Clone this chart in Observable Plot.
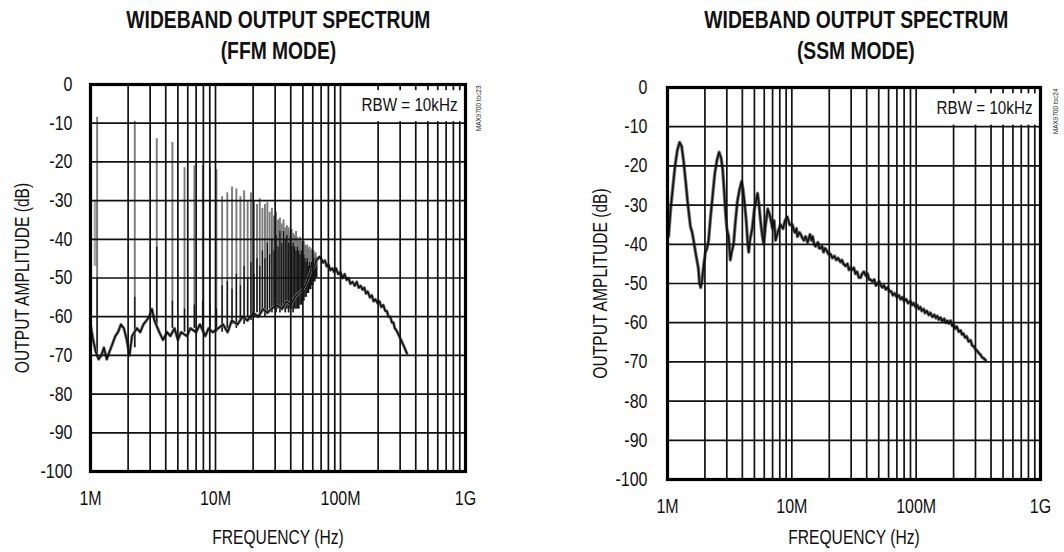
<!DOCTYPE html>
<html><head><meta charset="utf-8">
<script src="https://cdn.jsdelivr.net/npm/d3@7"></script>
<script src="https://cdn.jsdelivr.net/npm/@observablehq/plot@0.6"></script>
<style>
body{margin:0;background:#fff;}
#wrap{position:relative;width:1064px;height:552px;overflow:hidden;font-family:"Liberation Sans",Arial,sans-serif;color:#111;}
.panel{position:absolute;top:0;width:532px;height:552px;}
.title{position:absolute;top:5px;width:532px;text-align:center;font-weight:bold;font-size:23.5px;line-height:31px;color:#111;}
.title span{display:inline-block;transform:scaleX(0.82);white-space:nowrap;}
.plot{position:absolute;top:70px;left:0;}
</style></head>
<body><div id="wrap"></div>
<script>
// ---------- data ----------
const titles = [["WIDEBAND OUTPUT SPECTRUM", "(FFM MODE)"], ["WIDEBAND OUTPUT SPECTRUM", "(SSM MODE)"]];
const xLabel = "FREQUENCY (Hz)";
const yLabel = "OUTPUT AMPLITUDE (dB)";
const rbwLabel = "RBW = 10kHz";
const tocLabels = ["MAX9700 toc23", "MAX9700 toc24"];

const xTickMHz = [1, 10, 100, 1000];
const xTickLabels = ["1M", "10M", "100M", "1G"];
const yTicksDb = [0, -10, -20, -30, -40, -50, -60, -70, -80, -90, -100];
const gridMHz = [1,2,3,4,5,6,7,8,9,10,20,30,40,50,60,70,80,90,100,200,300,400,500,600,700,800,900,1000];
const rbwBoxMHz = [108, 1000];
const rbwBoxDb = [-1.6, -9.6];

// FFM mode: switching harmonics (MHz), peak, bottom and dark-core levels (dB)
const ffmHarmonicMHz = [1.13,2.26,3.39,4.52,5.65,6.78,7.91,9.04,10.17,11.30,12.43,13.56,14.69,15.82,16.95,18.08,19.21,20.34,21.47,22.60,23.73,24.86,25.99,27.12,28.25,29.38,30.51,31.64,32.77,33.90,35.03,36.16,37.29,38.42,39.55,40.68,41.81,42.94,44.07,45.20,46.33,47.46,48.59,49.72,50.85,51.98,53.11,54.24,55.37,56.50,57.63,58.76,59.89,61.02,62.15,63.28,64.41];
const ffmPeakDb = [-8.5,-9.5,-14,-15,-21.5,-21,-21,-21.5,-22,
  -29,-28,-26.5,-27,-29,-27.5,-30,-28,-30,-31,-29.5,
  -32,-31,-30.5,-33,-32,-34,-33,-35,-34.5,-36,
  -35,-37,-36.5,-37,-38,-37.5,-38.5,-39,-38,-39.5,
  -40,-39.5,-40.5,-41,-40.5,-41.5,-42,-41.5,-42.5,-42,-43,-42.5,-43.5,-43,-44,-43.5,-44.5];
const ffmBottomDb = [-70,-68,-62,-63,-64,-63,-64,-63,-64,
  -64,-63,-62,-63,-61,-62,-60,-61,-60,-59,-60,
  -59,-60,-59,-58,-59,-58,-59,-58,-59,-58,
  -58,-59,-58,-59,-58,-58,-59,-58,-58,-58,
  -58,-57,-57,-56,-56,-55,-55,-54,-54,-53,-53,-52,-52,-51,-51,-50,-50];
const ffmCoreDb = [-50,-55,-42,-56,-58,-57,-56,-57,-58,
  -52,-51,-53,-49,-52,-47,-50,-46,-49,-45,-47,
  -43,-45,-41,-44,-40,-43,-39,-42,-38,-41,
  -38,-40,-39,-41,-40,-42,-41,-42,-43,-42,
  -43,-44,-43,-45,-44,-45,-46,-45,-47,-46,-47,-46,-46,-45,-46,-45,-46];
const ffmBand = [[1.1, -30, -47]];
// FFM noise floor / broadband trace [MHz, dB]
const ffmTrace = [[1.0,-62],[1.05,-66],[1.1,-69],[1.16,-71],[1.22,-70],[1.28,-68],[1.35,-71],[1.42,-69],[1.5,-67],[1.58,-65],[1.66,-64],[1.75,-62],[1.85,-63],[1.95,-66],[2.05,-70],[2.15,-65],[2.35,-63],[2.5,-64],[2.65,-62],[2.8,-61],[2.95,-60],[3.1,-58],[3.25,-61],[3.55,-64],[3.8,-66],[4.1,-64],[4.35,-65],[4.7,-63],[5.0,-66],[5.3,-64],[5.9,-65],[6.3,-63],[7.0,-64],[7.5,-62],[8.3,-65],[8.8,-63],[9.5,-64],[10.5,-63],[11.5,-62],[12.5,-64],[13.5,-61],[15,-62],[16.5,-60],[18,-61],[20,-59],[22,-60],[24,-58],[26,-59],[28,-58],[31,-57],[34,-58],[37,-56],[40,-57],[43,-55],[46,-54],[50,-53],[54,-51],[58,-48],
  [62,-47],[64,-45.5],[66,-45],[68,-44.5],[70,-45],[72.5,-46],[75,-45.5],[77.5,-47],[80,-46.5],[83,-48],[86,-47.5],[89,-48.5],[92,-47.5],[96,-49],[100,-48.5],[104,-50],[108,-49],[112,-50.5],[116,-50],[120,-51.5],[125,-51],[130,-52],[135,-51],[140,-52.5],[145,-52],[150,-53],[155,-52.5],[160,-54],[165,-53.5],[172,-55],[178,-54.5],[184,-56],[190,-55.5],[198,-56.5],[205,-56],[212,-57.5],[220,-57],[228,-58.5],[235,-58.5],[242,-60],[250,-60],[258,-61.5],[265,-61.5],[272,-63],[280,-63.5],[290,-64.5],[300,-65.5],[310,-66.5],[320,-67.5],[330,-68.5],[340,-69.5]];

// SSM mode trace [MHz, dB]
const ssmTrace = [[1.02,-38],[1.06,-31],[1.1,-26],[1.15,-20],[1.2,-16],[1.25,-14],[1.3,-15],[1.35,-19],[1.4,-24],[1.46,-30],[1.53,-35.5],[1.58,-37],[1.62,-39],[1.7,-43],[1.77,-46],[1.81,-50],[1.85,-51],[1.9,-49],[1.96,-45],[2.02,-42],[2.08,-41],[2.14,-39],[2.22,-33],[2.3,-28],[2.4,-22],[2.5,-18.5],[2.6,-16.5],[2.7,-18],[2.78,-21],[2.85,-26],[2.93,-32],[3.0,-36],[3.1,-38],[3.2,-44],[3.28,-42],[3.4,-40],[3.5,-35],[3.65,-29],[3.8,-26],[3.94,-24],[4.05,-26],[4.15,-29],[4.3,-34],[4.4,-39],[4.5,-42],[4.6,-39],[4.8,-36],[5.0,-31],[5.3,-27],[5.45,-30],[5.6,-34],[5.8,-38],[5.95,-40],[6.15,-35],[6.4,-31],[6.7,-33],[7.0,-36],[7.2,-34],[7.4,-39],[7.7,-37],[8.1,-35],[8.5,-36],[8.8,-34],[9.2,-33],[9.6,-35],
  [10.1,-35],[10.4,-36.5],[10.6,-37],[10.9,-36],[11.1,-38],[11.5,-37],[11.8,-37.5],[12.2,-38.5],[12.5,-39],[12.9,-38],[13.4,-39.5],[14,-37.5],[14.4,-39],[14.7,-38],[15.1,-40],[15.5,-40.5],[16.2,-39.5],[16.6,-41],[17,-41],[17.5,-40.5],[18,-42],[18.5,-41],[19,-41.5],[19.7,-42.5],[20.5,-42.5],[21.2,-43.5],[22,-43],[22.8,-44],[23.5,-43.5],[24.6,-44.5],[25.3,-44],[26,-45],[27,-45.5],[28,-45],[28.8,-46.5],[29.7,-46],[30.6,-46.5],[31.5,-46],[32.5,-47.5],[33.5,-47],[34.6,-48.5],[35.7,-48.5],[36.8,-47.5],[38,-47],[39.3,-48],[40.6,-47.5],[41.8,-49],[43,-49],[44.5,-49.5],[46,-49],[47.5,-50.5],[49,-50],[50.5,-49.5],[52,-50.5],[53.5,-51],[55,-50.5],[57,-51.5],[59,-51],[61,-52],[63,-52],[65,-53],[67,-52.5],[70,-53.5],[72.5,-53],[75,-54],[77.5,-53.5],[80,-54.5],[83,-54],[86,-55],[90,-54.5],[93,-55.5],[95.5,-55],[99,-56],[102,-55.5],[105,-56.5],[108,-56],[111,-57],[115,-56.5],[118,-57.5],[122,-57],[126,-58],[130,-57.5],[135,-58.5],[140,-58],[144,-58.8],[148,-58.3],[152,-59.2],[157,-58.7],[162,-59.6],[168,-59],[173,-60],[178,-59.5],[183,-60.2],[189,-59.5],[195,-60.8],[200,-60.5],[206,-61.5],[212,-61],[220,-62.3],[228,-62],[234,-63],[240,-62.8],[248,-63.8],[255,-63.5],[264,-64.8],[274,-64.5],[282,-65.8],[290,-66],[300,-66.8],[310,-67.2],[320,-67.8],[330,-68.2],[338,-68.8],[345,-69],[353,-69.2],[362,-69.6]];

// ---------- drawing ----------
const FONT = '"Liberation Sans",Arial,sans-serif';
const SQUEEZE = 0.8;
const ffmSpikes = ffmHarmonicMHz.map((f, i) => ({f, top: ffmPeakDb[i], bottom: ffmBottomDb[i], core: ffmCoreDb[i]}));

function makePanel(cfg) {
  const labelOf = new Map(xTickMHz.map((v, i) => [v, xTickLabels[i]]));
  return Plot.plot({
    width: 532, height: 482,
    marginLeft: cfg.ml, marginRight: cfg.mr, marginTop: cfg.mt, marginBottom: cfg.mb,
    style: {fontFamily: FONT, fontSize: "20px", color: "#111", background: "transparent", overflow: "visible"},
    x: {type: "log", domain: [1, 1000]},
    y: {domain: [-100, 0]},
    marks: [
      ...cfg.dataMarks,
      Plot.ruleX(gridMHz, {stroke: "#111", strokeWidth: 1.7}),
      Plot.ruleY(yTicksDb, {stroke: "#111", strokeWidth: 1.7}),
      Plot.rect([0], {x1: () => rbwBoxMHz[0], x2: () => rbwBoxMHz[1], y1: () => rbwBoxDb[0], y2: () => rbwBoxDb[1], fill: "white"}),
      Plot.text([rbwLabel], {frameAnchor: "top-right", dx: -8, dy: 20, lineAnchor: "middle", fontSize: 19, fill: "#111"}),
      Plot.frame({stroke: "#000", strokeWidth: 3.2}),
      Plot.axisX({ticks: xTickMHz, tickFormat: d => labelOf.get(d), tickSize: 0, tickPadding: 19, fontSize: 20, label: null}),
      Plot.axisY({ticks: yTicksDb, tickFormat: d => String(d), tickSize: 0, tickPadding: cfg.yPad, fontSize: 20, label: null}),
      Plot.text([xLabel], {frameAnchor: "bottom", dy: cfg.xLabelDy, lineAnchor: "middle", fontSize: 19.5, fill: "#111"}),
      Plot.text([yLabel], {frameAnchor: "left", dx: cfg.yLabelDx, rotate: -90, textAnchor: "middle", lineAnchor: "middle", fontSize: 19.5, fill: "#111"}),
      Plot.text([cfg.toc], {frameAnchor: "top-right", dx: cfg.tocDx, dy: 1, rotate: -90, textAnchor: "end", lineAnchor: "middle", fontSize: 8, fill: "#222"})
    ]
  });
}

const ffmMarks = [
  Plot.ruleX(ffmBand, {x: d => d[0], y1: d => d[2], y2: d => d[1], stroke: "#a8a8a8", strokeWidth: 4}),
  Plot.ruleX(ffmSpikes, {x: "f", y1: "bottom", y2: "top", stroke: "#7a7a7a", strokeWidth: 1.9}),
  Plot.ruleX(ffmSpikes, {x: "f", y1: "bottom", y2: "core", stroke: "#151515", strokeWidth: 1.3}),
  Plot.line(ffmTrace, {x: d => d[0], y: d => d[1], stroke: "#777", strokeWidth: 3}),
  Plot.line(ffmTrace, {x: d => d[0], y: d => d[1], stroke: "#111", strokeWidth: 1.5})
];
const ssmMarks = [
  Plot.line(ssmTrace, {x: d => d[0], y: d => d[1], stroke: "#777", strokeWidth: 3.4}),
  Plot.line(ssmTrace, {x: d => d[0], y: d => d[1], stroke: "#111", strokeWidth: 1.6})
];

const configs = [
  {left: 0, titleLeft: 12, ml: 90, mr: 67, mt: 14, mb: 81, yPad: 18, xLabelDy: 66, yLabelDx: -68, tocDx: 13, toc: tocLabels[0], dataMarks: ffmMarks, title: titles[0]},
  {left: 532, titleLeft: 58, ml: 135, mr: 24, mt: 17, mb: 73, yPad: 20, xLabelDy: 58, yLabelDx: -67, tocDx: 15, toc: tocLabels[1], dataMarks: ssmMarks, title: titles[1]}
];

const wrap = document.getElementById("wrap");
for (const c of configs) {
  const p = document.createElement("div");
  p.className = "panel";
  p.style.left = c.left + "px";
  const t = document.createElement("div");
  t.className = "title";
  t.style.left = c.titleLeft + "px";
  t.innerHTML = c.title.map(s => "<span>" + s + "</span>").join("<br>");
  p.appendChild(t);
  const holder = document.createElement("div");
  holder.className = "plot";
  const svg = makePanel(c);
  holder.appendChild(svg);
  p.appendChild(holder);
  wrap.appendChild(p);
  // condense the text horizontally (narrow face of the original)
  svg.querySelectorAll("text").forEach(el => {
    const L = el.getComputedTextLength();
    if (L > 0) {
      el.setAttribute("textLength", (L * SQUEEZE).toFixed(2));
      el.setAttribute("lengthAdjust", "spacingAndGlyphs");
    }
  });
}
</script>
</body></html>
